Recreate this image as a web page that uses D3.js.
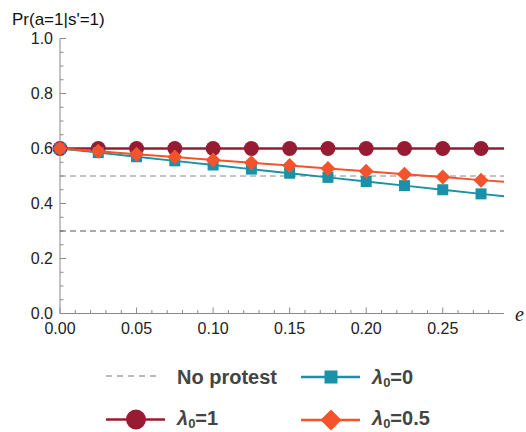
<!DOCTYPE html>
<html>
<head>
<meta charset="utf-8">
<script src="https://cdn.jsdelivr.net/npm/d3@7"></script>
<style>
  html, body { margin: 0; padding: 0; background: #fff; }
  svg { display: block; }
</style>
</head>
<body>
<svg id="chart" width="526" height="432"></svg>
<script>
// Probability of action a=1 given s'=1, as a function of e
const eValues = [0, 0.025, 0.05, 0.075, 0.1, 0.125, 0.15, 0.175, 0.2, 0.225, 0.25, 0.275];
const eEnd = 0.29;

const lambda1Values   = [0.600, 0.600, 0.600, 0.600, 0.600, 0.600, 0.600, 0.600, 0.600, 0.600, 0.600, 0.600];
const lambda1End = 0.600;
const lambda0Values   = [0.600, 0.585, 0.570, 0.555, 0.540, 0.525, 0.510, 0.495, 0.480, 0.465, 0.450, 0.435];
const lambda0End = 0.426;
const lambdaHalfValues = [0.600, 0.590, 0.579, 0.569, 0.558, 0.548, 0.538, 0.527, 0.517, 0.506, 0.496, 0.485];
const lambdaHalfEnd = 0.479;

// Benchmarks without protest
const noProtestLevels = [0.5, 0.3];

const xTicks = [0, 0.05, 0.1, 0.15, 0.2, 0.25];
const yTicks = [0, 0.2, 0.4, 0.6, 0.8, 1.0];

const svg = d3.select("#chart");
const x = d3.scaleLinear().domain([0, eEnd]).range([60, 504]);
const y = d3.scaleLinear().domain([0, 1]).range([313.5, 38.5]);

const axisColor = "#8a8a8a";
const font = "'Liberation Sans', Arial, sans-serif";

// X axis: major ticks every 0.05, minor every 0.01, pointing inward
const xAxis = svg.append("g").attr("transform", `translate(0,${y(0)})`);
xAxis.append("line").attr("x1", x(0)).attr("x2", x(eEnd)).attr("stroke", axisColor).attr("stroke-width", 1);
const xMinor = d3.range(0, 29).map(i => i / 100);
xAxis.selectAll("line.minor").data(xMinor).join("line")
  .attr("class", "minor")
  .attr("x1", d => x(d)).attr("x2", d => x(d))
  .attr("y1", 0).attr("y2", d => (Math.round(d * 100) % 5 === 0) ? -6 : -3.5)
  .attr("stroke", axisColor).attr("stroke-width", 1);
xAxis.selectAll("text").data(xTicks).join("text")
  .attr("x", d => x(d)).attr("y", 20)
  .attr("text-anchor", "middle")
  .attr("font-family", font).attr("font-size", 16).attr("fill", "#222")
  .text(d => d3.format(".2f")(d));

// Y axis: major ticks every 0.2, minor every 0.05
const yAxis = svg.append("g").attr("transform", `translate(${x(0)},0)`);
yAxis.append("line").attr("y1", y(0)).attr("y2", y(1)).attr("stroke", axisColor).attr("stroke-width", 1);
const yMinor = d3.range(0, 21).map(i => i / 20);
yAxis.selectAll("line.minor").data(yMinor).join("line")
  .attr("class", "minor")
  .attr("y1", d => y(d)).attr("y2", d => y(d))
  .attr("x1", 0).attr("x2", (d, i) => (i % 4 === 0) ? 6 : 3.5)
  .attr("stroke", axisColor).attr("stroke-width", 1);
yAxis.selectAll("text").data(yTicks).join("text")
  .attr("x", -7).attr("y", d => y(d))
  .attr("dy", "0.35em")
  .attr("text-anchor", "end")
  .attr("font-family", font).attr("font-size", 16).attr("fill", "#222")
  .text(d => d3.format(".1f")(d));

// Axis labels
svg.append("text").attr("x", 12).attr("y", 25)
  .attr("font-family", font).attr("font-size", 17).attr("fill", "#111")
  .text("Pr(a=1|s'=1)");
svg.append("text").attr("x", 515).attr("y", 321)
  .attr("font-family", "'Liberation Serif', serif").attr("font-style", "italic")
  .attr("font-size", 20).attr("fill", "#222")
  .text("e");

// No-protest reference lines
svg.selectAll("line.noprotest").data(noProtestLevels).join("line")
  .attr("class", "noprotest")
  .attr("x1", x(0)).attr("x2", x(eEnd))
  .attr("y1", d => y(d)).attr("y2", d => y(d))
  .attr("stroke", (d, i) => i === 0 ? "#888" : "#555")
  .attr("stroke-width", (d, i) => i === 0 ? 1 : 1.2)
  .attr("stroke-dasharray", "6,4");

// Series
const series = [
  { values: lambda1Values, end: lambda1End, color: "#971B33", shape: "circle", width: 2.4 },
  { values: lambda0Values, end: lambda0End, color: "#1A91A8", shape: "square", width: 2 },
  { values: lambdaHalfValues, end: lambdaHalfEnd, color: "#F4532B", shape: "diamond", width: 2 }
];

const line = d3.line().x(d => x(d[0])).y(d => y(d[1]));

function drawMarker(g, shape, color, size) {
  if (shape === "circle") {
    g.append("circle").attr("r", size).attr("fill", color);
  } else if (shape === "square") {
    g.append("rect").attr("x", -size).attr("y", -size)
      .attr("width", size * 2).attr("height", size * 2).attr("fill", color);
  } else {
    g.append("path").attr("d", `M0,${-size}L${size},0L0,${size}L${-size},0Z`).attr("fill", color);
  }
}

const markerSize = { circle: 7.5, square: 5.5, diamond: 7.5 };

series.forEach(s => {
  const pts = eValues.map((e, i) => [e, s.values[i]]).concat([[eEnd, s.end]]);
  svg.append("path").attr("d", line(pts))
    .attr("fill", "none").attr("stroke", s.color).attr("stroke-width", s.width);
});
series.forEach(s => {
  eValues.forEach((e, i) => {
    const g = svg.append("g").attr("transform", `translate(${x(e)},${y(s.values[i])})`);
    drawMarker(g, s.shape, s.color, markerSize[s.shape]);
  });
});

// Legend
const legend = svg.append("g").attr("font-family", font).attr("font-weight", "bold")
  .attr("font-size", 20).attr("fill", "#444");

const legendItems = [
  { kind: "dash", x: 106, y: 376, base: 384, text: "No protest" },
  { kind: "square", x: 301, y: 377, base: 384, color: "#1A91A8", sub: "0", val: "=0" },
  { kind: "circle", x: 106, y: 419.5, base: 425, color: "#971B33", sub: "0", val: "=1" },
  { kind: "diamond", x: 301, y: 420, base: 425, color: "#F4532B", sub: "0", val: "=0.5" }
];

legendItems.forEach(it => {
  const g = legend.append("g");
  if (it.kind === "dash") {
    g.append("line").attr("x1", it.x).attr("x2", it.x + 55).attr("y1", it.y).attr("y2", it.y)
      .attr("stroke", "#777").attr("stroke-width", 1.2).attr("stroke-dasharray", "6,5");
    g.append("text").attr("x", it.x + 71).attr("y", it.base).text(it.text);
  } else {
    g.append("line").attr("x1", it.x).attr("x2", it.x + 59).attr("y1", it.y).attr("y2", it.y)
      .attr("stroke", it.color).attr("stroke-width", 2.4);
    const m = g.append("g").attr("transform", `translate(${it.x + 30},${it.y})`);
    const sz = it.kind === "circle" ? 10 : it.kind === "square" ? 6.5 : 10.5;
    drawMarker(m, it.kind, it.color, sz);
    const t = g.append("text").attr("x", it.x + 71).attr("y", it.base);
    t.append("tspan").attr("font-style", "italic").text("λ");
    t.append("tspan").attr("font-size", 13).attr("dy", 3).text(it.sub);
    t.append("tspan").attr("dy", -3).text(it.val);
  }
});
</script>
</body>
</html>
